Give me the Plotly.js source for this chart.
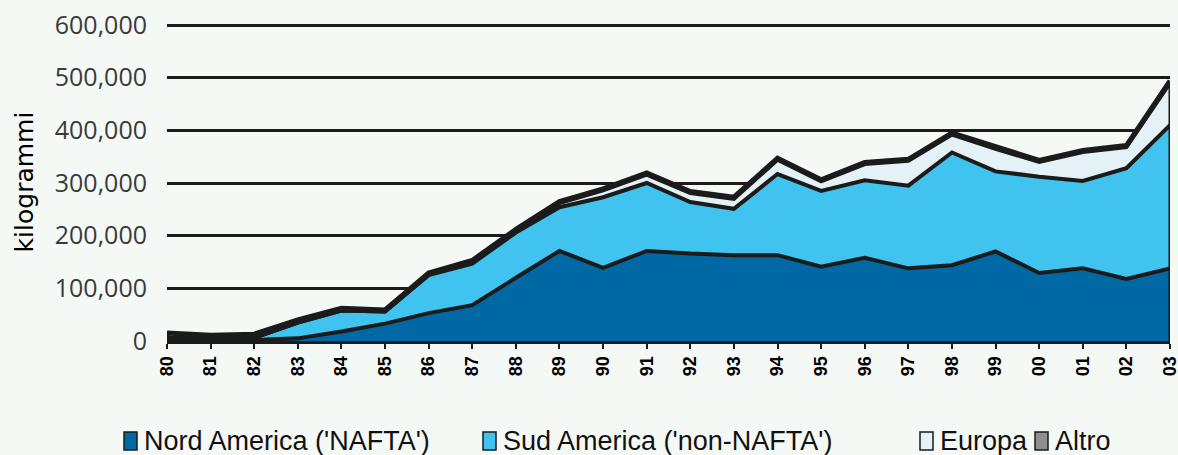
<!DOCTYPE html>
<html>
<head>
<meta charset="utf-8">
<script src="https://cdn.plot.ly/plotly-3.0.1.min.js"></script>
<style>
  html, body { margin: 0; padding: 0; background: #f4f9f6; }
  #chart { width: 1178px; height: 455px; }
</style>
</head>
<body>
<div id="chart"></div>
<script>
// ---- data (kilogrammi) ----
var years = ['80','81','82','83','84','85','86','87','88','89','90','91','92','93','94','95','96','97','98','99','00','01','02','03'];
var nordAmerica = [2000,1000,2000,5000,18000,33000,53000,68000,120000,171000,139000,171000,166000,163000,163000,141000,158000,138000,144000,170000,129000,138000,118000,138000];
var sudAmerica  = [4000,5000,4000,30000,40000,23000,72000,79000,86000,83000,134000,129000,98000,88000,154000,144000,147000,157000,214000,152000,183000,166000,210000,272000];
var europa      = [0,0,0,0,0,0,1000,3000,3000,8000,13000,16000,17000,19000,27000,18000,31000,47000,34000,43000,28000,55000,40000,80000];
var altro       = [9000,5000,7000,5000,4000,3000,3000,3000,3000,3000,3000,3000,3000,3000,3000,3000,3000,3000,3000,3000,3000,3000,3000,4000];
var seriesNames = ["Nord America ('NAFTA')", "Sud America ('non-NAFTA')", "Europa", "Altro"];
var yTickVals = [0,100000,200000,300000,400000,500000,600000];
var yTickText = ['0','100,000','200,000','300,000','400,000','500,000','600,000'];
var yTitle = 'kilogrammi';

// ---- styles ----
var fillColors = ['#0068a5', '#40c3ee', '#e4f2f7', '#8f8f8f'];
var lineColor = '#1b1b1b';
var bg = '#f4f9f6';
var W = 1178, H = 455;
var mL = 167, mR = 8, mT = 23, mB = 114;
var plotW = W - mL - mR, plotH = H - mT - mB;
var yMax = 600000 * plotH / 316;   // keeps the 600,000 grid line just inside the plot
function px2paperX(px) { return (px - mL) / plotW; }
function px2paperY(py) { return (H - mB - py) / plotH; }

var seriesData = [nordAmerica, sudAmerica, europa, altro];
var lineWidths = [4, 4, 4, 5];
var traces = seriesData.map(function (vals, i) {
  return {
    type: 'scatter', mode: 'lines', x: years, y: vals, name: seriesNames[i],
    stackgroup: 'one', fillcolor: fillColors[i],
    line: { color: lineColor, width: lineWidths[i], shape: 'linear' },
    showlegend: false, hoverinfo: 'skip'
  };
});
// closing edges of the stacked area at both ends
var totals = years.map(function (_, j) {
  return nordAmerica[j] + sudAmerica[j] + europa[j] + altro[j];
});
traces.push({ type: 'scatter', mode: 'lines', x: [years[years.length-1], years[years.length-1]],
  y: [0, totals[totals.length-1]], line: { color: lineColor, width: 3 }, showlegend: false, hoverinfo: 'skip' });
traces.push({ type: 'scatter', mode: 'lines', x: [years[0], years[0]],
  y: [0, totals[0]], line: { color: lineColor, width: 4 }, showlegend: false, hoverinfo: 'skip' });

// ---- manual legend ----
var legendBoxes = [[124,137,142],[483,496,501],[920,933,938],[1035,1048,1053]];
var shapes = [], annotations = [];
seriesNames.forEach(function (name, i) {
  var b = legendBoxes[i];
  shapes.push({ type: 'rect', xref: 'paper', yref: 'paper',
    x0: px2paperX(b[0]), x1: px2paperX(b[1]), y0: px2paperY(450), y1: px2paperY(432),
    fillcolor: fillColors[i], line: { color: '#1b1b1b', width: 1.5 } });
  annotations.push({ xref: 'paper', yref: 'paper', x: px2paperX(b[2]), y: px2paperY(441),
    xanchor: 'left', yanchor: 'middle', showarrow: false, text: name,
    font: { family: 'Liberation Sans, Arial, sans-serif', size: 27, color: '#111' } });
});

var layout = {
  width: W, height: H,
  margin: { l: mL, r: mR, t: mT, b: mB, pad: 0 },
  paper_bgcolor: bg, plot_bgcolor: bg,
  showlegend: false,
  xaxis: {
    type: 'category', range: [0, years.length - 1],
    tickmode: 'array', tickvals: years, ticktext: years,
    ticks: 'outside', ticklen: 5, tickwidth: 2, tickcolor: '#1b1b1b',
    tickangle: -90,
    tickfont: { family: 'Liberation Sans, Arial, sans-serif', size: 18, color: '#000', weight: 'bold' },
    showgrid: false, zeroline: false,
    showline: true, linecolor: '#1b1b1b', linewidth: 3,
    automargin: false, fixedrange: true
  },
  yaxis: {
    range: [0, yMax], tickmode: 'array', tickvals: yTickVals, ticktext: yTickText,
    ticks: 'outside', ticklen: 14, tickcolor: 'rgba(0,0,0,0)',
    tickfont: { family: 'Open Sans, Noto Sans, sans-serif', size: 25, color: '#3a3a3a' },
    showgrid: true, gridcolor: '#1b1b1b', gridwidth: 3,
    zeroline: false, showline: false,
    title: { text: yTitle, standoff: 14,
      font: { family: 'DejaVu Sans, sans-serif', size: 25, color: '#000' } },
    automargin: false, fixedrange: true
  },
  shapes: shapes,
  annotations: annotations
};

Plotly.newPlot('chart', traces, layout, { displayModeBar: false, staticPlot: true });
</script>
</body>
</html>
